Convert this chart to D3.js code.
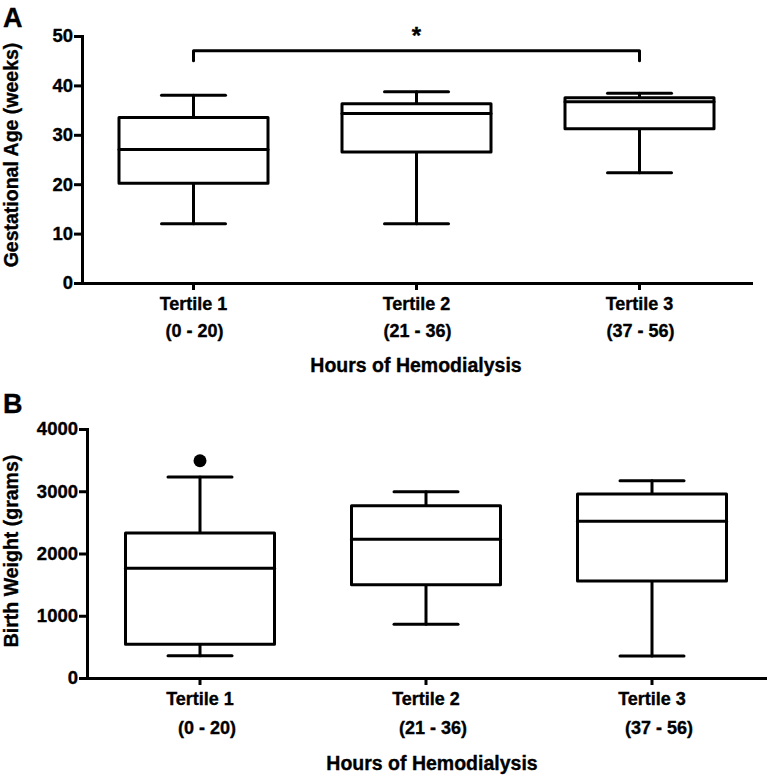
<!DOCTYPE html>
<html><head><meta charset="utf-8">
<script src="https://cdn.jsdelivr.net/npm/d3@7"></script>
<style>
html,body{margin:0;padding:0;background:#fff;}
svg{display:block;font-family:"Liberation Sans",Arial,Helvetica,sans-serif;font-weight:bold;}
svg text{stroke:#000;stroke-width:0.35px;fill:#000;}
</style></head>
<body><svg id="chart" width="768" height="777"></svg>
<script>
// ---- data ----
const categories = ["Tertile 1", "Tertile 2", "Tertile 3"];
const hourRanges = ["(0 - 20)", "(21 - 36)", "(37 - 56)"];

// Panel A: Gestational Age (weeks)
const gaMin = [12, 12, 22.3];
const gaQ1  = [20.2, 26.5, 31.2];
const gaMed = [27, 34.3, 36.7];
const gaQ3  = [33.5, 36.3, 37.5];
const gaMax = [38, 38.7, 38.4];
const gaTicks = [0, 10, 20, 30, 40, 50];
const sigFrom = "Tertile 1", sigTo = "Tertile 3", sigLevel = 47, sigDrop = 45, sigLabel = "*";

// Panel B: Birth Weight (grams)
const bwMin = [358, 862, 353];
const bwQ1  = [541, 1499, 1558];
const bwMed = [1762, 2228, 2517];
const bwQ3  = [2329, 2768, 2956];
const bwMax = [3229, 2993, 3170];
const bwTicks = [0, 1000, 2000, 3000, 4000];
const bwOutlierCat = ["Tertile 1"];
const bwOutlierVal = [3490];

const svg = d3.select("#chart");
const SW = 3;
const FF = '"Liberation Sans",Arial,sans-serif';

function panel(cfg) {
  const g = svg.append("g");
  const x = d3.scaleBand().domain(categories).range([cfg.left, cfg.right]).paddingInner(0).paddingOuter(0);
  const y = d3.scaleLinear().domain([0, cfg.ticks[cfg.ticks.length - 1]]).range([cfg.bottom, cfg.top]);

  // boxes
  const boxW = 149, capW = 64;
  categories.forEach((c, i) => {
    const cx = x(c) + x.bandwidth() / 2;
    const bg = g.append("g").attr("fill", "none").attr("stroke", "#000").attr("stroke-width", SW)
      .attr("stroke-linejoin", "round").attr("stroke-linecap", "round");
    bg.append("line").attr("x1", cx).attr("x2", cx).attr("y1", y(cfg.max[i])).attr("y2", y(cfg.q3[i]));
    bg.append("line").attr("x1", cx).attr("x2", cx).attr("y1", y(cfg.q1[i])).attr("y2", y(cfg.min[i]));
    bg.append("line").attr("x1", cx - capW / 2).attr("x2", cx + capW / 2).attr("y1", y(cfg.max[i])).attr("y2", y(cfg.max[i]));
    bg.append("line").attr("x1", cx - capW / 2).attr("x2", cx + capW / 2).attr("y1", y(cfg.min[i])).attr("y2", y(cfg.min[i]));
    bg.append("rect").attr("x", cx - boxW / 2).attr("width", boxW)
      .attr("y", y(cfg.q3[i])).attr("height", y(cfg.q1[i]) - y(cfg.q3[i])).attr("fill", "#fff");
    bg.append("line").attr("x1", cx - boxW / 2).attr("x2", cx + boxW / 2).attr("y1", y(cfg.med[i])).attr("y2", y(cfg.med[i]));
  });

  // y axis
  const ya = g.append("g").attr("transform", `translate(${cfg.left},0)`)
    .call(d3.axisLeft(y).tickValues(cfg.ticks).tickSize(8).tickSizeOuter(0).tickPadding(1).tickFormat(d3.format("d")));
  ya.select(".domain").attr("stroke-width", SW).attr("stroke-linecap", "square");
  ya.selectAll(".tick line").attr("stroke-width", SW);
  ya.selectAll(".tick text").attr("font-size", 18.5).attr("font-weight", "bold").attr("fill", "#000")
    .attr("font-family", FF);

  // x axis
  const xa = g.append("g").attr("transform", `translate(0,${cfg.bottom})`)
    .call(d3.axisBottom(x).tickSize(7).tickSizeOuter(0).tickFormat(""));
  xa.select(".domain").attr("stroke-width", SW).attr("stroke-linecap", "square");
  xa.selectAll(".tick line").attr("stroke-width", SW);
  xa.selectAll(".tick").each(function (d, i) {
    const t = d3.select(this);
    t.append("text").attr("y", cfg.lab1).attr("x", 0).attr("text-anchor", "middle")
      .attr("font-size", 18).attr("font-weight", "bold").attr("font-family", FF).text(d);
    t.append("text").attr("y", cfg.lab2).attr("x", cfg.lab2dx).attr("text-anchor", "middle")
      .attr("font-size", 18).attr("font-weight", "bold").attr("font-family", FF).text(hourRanges[i]);
  });

  // titles
  g.append("text").attr("x", cfg.xTitleX).attr("y", cfg.bottom + cfg.xTitleDy).attr("text-anchor", "middle")
    .attr("font-size", 19.5).text("Hours of Hemodialysis");
  g.append("text").attr("transform", `translate(18,${cfg.yTitleY}) rotate(-90)`).attr("text-anchor", "middle")
    .attr("font-size", 19.5).text(cfg.yTitle);
  g.append("text").attr("x", 3).attr("y", cfg.letterY).attr("font-size", 27).text(cfg.letter);

  return { g, x, y };
}

// Panel A
const A = panel({
  left: 82, right: 751, top: 36, bottom: 283, ticks: gaTicks,
  min: gaMin, q1: gaQ1, med: gaMed, q3: gaQ3, max: gaMax,
  lab1: 27, lab2: 54, lab2dx: 1, xTitleX: 416, xTitleDy: 89,
  yTitle: "Gestational Age (weeks)", yTitleY: 155, letter: "A", letterY: 27
});
{
  const xs1 = A.x(sigFrom) + A.x.bandwidth() / 2, xs2 = A.x(sigTo) + A.x.bandwidth() / 2;
  A.g.append("path")
    .attr("d", `M${xs1},${A.y(sigDrop)}V${A.y(sigLevel)}H${xs2}V${A.y(sigDrop)}`)
    .attr("fill", "none").attr("stroke", "#000").attr("stroke-width", SW).attr("stroke-linejoin", "round").attr("stroke-linecap", "round");
  A.g.append("text").attr("x", (xs1 + xs2) / 2).attr("y", A.y(sigLevel) - 7).attr("text-anchor", "middle")
    .attr("font-size", 24).text(sigLabel);
}

// Panel B
const B = panel({
  left: 87, right: 765, top: 429, bottom: 678, ticks: bwTicks,
  min: bwMin, q1: bwQ1, med: bwMed, q3: bwQ3, max: bwMax,
  lab1: 27, lab2: 56, lab2dx: 7, xTitleX: 432, xTitleDy: 92,
  yTitle: "Birth Weight (grams)", yTitleY: 551, letter: "B", letterY: 413
});
B.g.selectAll("circle.outlier").data(bwOutlierVal).join("circle").attr("class", "outlier")
  .attr("cx", (d, i) => B.x(bwOutlierCat[i]) + B.x.bandwidth() / 2)
  .attr("cy", d => B.y(d)).attr("r", 6.5).attr("fill", "#000");
</script>
</body></html>
